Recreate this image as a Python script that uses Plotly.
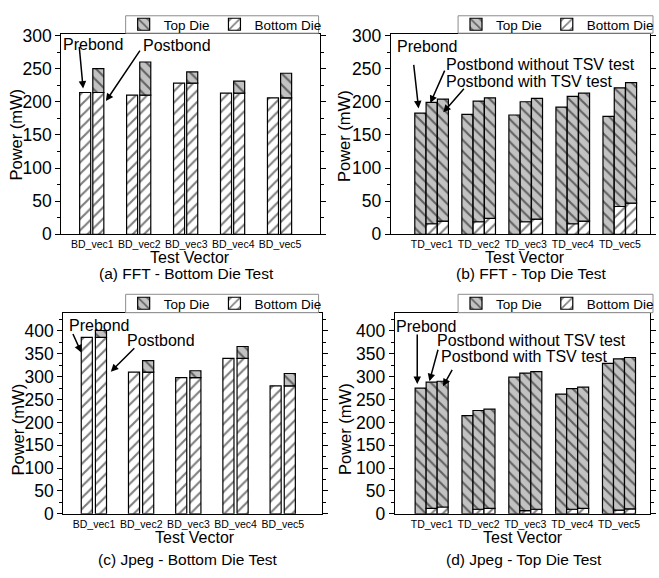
import plotly.graph_objects as go

# ---------------- data ----------------
cats_bd = ["BD_vec1", "BD_vec2", "BD_vec3", "BD_vec4", "BD_vec5"]
cats_td = ["TD_vec1", "TD_vec2", "TD_vec3", "TD_vec4", "TD_vec5"]

# (a) FFT - Bottom Die Test
fft_bd_pre_bottom = [214, 210, 228, 213, 206]
fft_bd_post_bottom = [214, 210, 228, 213, 206]
fft_bd_post_top = [36, 50, 17, 18, 37]

# (b) FFT - Top Die Test
fft_td_pre_top = [183, 181, 180, 192, 178]
fft_td_notsv_bottom = [16, 19, 19, 16, 42]
fft_td_notsv_top = [183, 182, 181, 192, 179]
fft_td_tsv_bottom = [20, 24, 23, 20, 47]
fft_td_tsv_top = [184, 182, 182, 193, 182]

# (c) Jpeg - Bottom Die Test
jpg_bd_pre_bottom = [386, 310, 298, 340, 280]
jpg_bd_post_bottom = [386, 310, 298, 340, 280]
jpg_bd_post_top = [15, 25, 15, 26, 27]

# (d) Jpeg - Top Die Test
jpg_td_pre_top = [275, 215, 299, 262, 329]
jpg_td_notsv_bottom = [12, 10, 7, 10, 8]
jpg_td_notsv_top = [276, 216, 301, 264, 331]
jpg_td_tsv_bottom = [15, 12, 10, 12, 11]
jpg_td_tsv_top = [275, 217, 301, 265, 331]

captions = ["(a) FFT - Bottom Die Test", "(b) FFT - Top Die Test",
            "(c) Jpeg - Bottom Die Test", "(d) Jpeg - Top Die Test"]

# ---------------- style ----------------
W, H = 659, 578
FONT = "Liberation Sans, Arial, sans-serif"
GREY = "#c2c2c2"
BW = 0.235


def px(xp, yp):
    return xp / W, 1 - yp / H


def pattern_marker(kind):
    if kind == "top":
        return dict(color=GREY, line=dict(color="black", width=1.2),
                    pattern=dict(shape="\\", fgcolor="black", bgcolor=GREY,
                                 size=8, solidity=0.27))
    return dict(color="white", line=dict(color="black", width=1.2),
                pattern=dict(shape="/", fgcolor="black", bgcolor="white",
                             size=8, solidity=0.27))


fig = go.Figure()


def add_bar(cats, vals, base, ax, kind, offset, legend, show):
    fig.add_trace(go.Bar(
        x=cats, y=vals, base=base,
        xaxis="x" + ("" if ax == 1 else str(ax)),
        yaxis="y" + ("" if ax == 1 else str(ax)),
        name="Top Die" if kind == "top" else "Bottom Die",
        legendrank=1 if kind == "top" else 2,
        marker=pattern_marker(kind), offset=offset, width=BW,
        legend=legend, showlegend=show, hoverinfo="skip"))


# (a)
add_bar(cats_bd, fft_bd_pre_bottom, None, 1, "bottom", -0.27, "legend", False)
add_bar(cats_bd, fft_bd_post_bottom, None, 1, "bottom", 0.01, "legend", True)
add_bar(cats_bd, fft_bd_post_top, fft_bd_post_bottom, 1, "top", 0.01, "legend", True)
# (b)
add_bar(cats_td, fft_td_pre_top, None, 2, "top", -0.36, "legend2", True)
add_bar(cats_td, fft_td_notsv_bottom, None, 2, "bottom", -0.12, "legend2", True)
add_bar(cats_td, fft_td_notsv_top, fft_td_notsv_bottom, 2, "top", -0.12, "legend2", False)
add_bar(cats_td, fft_td_tsv_bottom, None, 2, "bottom", 0.12, "legend2", False)
add_bar(cats_td, fft_td_tsv_top, fft_td_tsv_bottom, 2, "top", 0.12, "legend2", False)
# (c)
add_bar(cats_bd, jpg_bd_pre_bottom, None, 3, "bottom", -0.27, "legend3", False)
add_bar(cats_bd, jpg_bd_post_bottom, None, 3, "bottom", 0.03, "legend3", True)
add_bar(cats_bd, jpg_bd_post_top, jpg_bd_post_bottom, 3, "top", 0.03, "legend3", True)
# (d)
add_bar(cats_td, jpg_td_pre_top, None, 4, "top", -0.355, "legend4", True)
add_bar(cats_td, jpg_td_notsv_bottom, None, 4, "bottom", -0.12, "legend4", True)
add_bar(cats_td, jpg_td_notsv_top, jpg_td_notsv_bottom, 4, "top", -0.12, "legend4", False)
add_bar(cats_td, jpg_td_tsv_bottom, None, 4, "bottom", 0.115, "legend4", False)
add_bar(cats_td, jpg_td_tsv_top, jpg_td_tsv_bottom, 4, "top", 0.115, "legend4", False)

# ---------------- axes ----------------
panels = [
    # x left, x right, y top, y bottom (px), x range, y range
    (62, 323, 26, 233, [-0.66, 4.84], [0, 302]),
    (395, 657, 26, 233, [-0.87, 4.64], [0, 302]),
    (64, 325, 314, 522, [-0.65, 4.82], [0, 440]),
    (399, 657, 314, 522, [-0.79, 4.66], [0, 440]),
]
layout = {}
for i, (xl, xr, yt, yb, xrng, yrng) in enumerate(panels, start=1):
    sfx = "" if i == 1 else str(i)
    layout["xaxis" + sfx] = dict(
        domain=[xl / W, xr / W], range=xrng, type="category",
        anchor="y" + sfx, showline=True, linecolor="black", linewidth=1.2,
        mirror=True, ticks="", showgrid=False, zeroline=False,
        tickfont=dict(size=10.5, family=FONT, color="black"), ticklabelstandoff=0)
    layout["yaxis" + sfx] = dict(
        domain=[1 - yb / H, 1 - yt / H], range=yrng, dtick=50,
        anchor="x" + sfx, showline=True, linecolor="black", linewidth=1.2,
        mirror="ticks", ticks="outside", ticklen=5, tickcolor="black",
        minor=dict(dtick=25, ticks="outside", ticklen=3, tickcolor="black"),
        showgrid=False, zeroline=False,
        tickfont=dict(size=17.5, family=FONT, color="black"))
fig.update_layout(**layout)

# ---------------- legends (box drawn as a shape, entries on top) ----------------
leg_common = dict(orientation="h", bgcolor="rgba(0,0,0,0)", borderwidth=0,
                  font=dict(size=13.5, family=FONT, color="black"),
                  xanchor="left", yanchor="middle", traceorder="normal",
                  itemwidth=30, tracegroupgap=0)
shapes = []
for name, (bx0, bx1, by0, by1) in zip(
        ["legend", "legend2", "legend3", "legend4"],
        [(127, 322, 7, 25), (463, 660, 7, 25), (127, 322, 295, 314), (463, 660, 295, 314)]):
    lx, ly = px(bx0 - 2, (by0 + by1) / 2)
    fig.update_layout({name: dict(x=lx, y=ly, **leg_common)})
    x0, y0 = px(bx0, by1)
    x1, y1 = px(bx1, by0)
    shapes.append(dict(type="rect", xref="paper", yref="paper", x0=x0, x1=x1,
                       y0=y0, y1=y1, fillcolor="white",
                       line=dict(color="#8c8c8c", width=1), layer="above"))

# ---------------- text annotations ----------------
ann = []


def text(t, xp, yp, size=16, angle=0):
    x, y = px(xp, yp)
    ann.append(dict(text=t, x=x, y=y, xref="paper", yref="paper",
                    xanchor="center", yanchor="middle", showarrow=False,
                    textangle=angle, font=dict(size=size, family=FONT, color="black")))


def arrow(axn, xv, yv, dx, dy):
    sfx = "" if axn == 1 else str(axn)
    ann.append(dict(text="", x=xv, y=yv, xref="x" + sfx, yref="y" + sfx,
                    ax=dx, ay=dy, showarrow=True, arrowhead=2, arrowsize=1,
                    arrowwidth=1.5, arrowcolor="black", standoff=0, startstandoff=0))


# axis titles & captions
for (xt, yt), (xv, yv), (xc, yc), cap in zip(
        [(16, 130), (347, 131), (18, 435), (348, 434)],
        [(192, 256.5), (531, 256.5), (197, 546), (529, 546)],
        [(189, 273.5), (537, 273.5), (190, 569), (530, 569)], captions):
    text("Power (mW)", xt, yt, 16.5, -90)
    text("Test Vector", xv, yv, 16)
    text(cap, xc, yc, 15.5)

# (a)
text("Prebond", 95, 37)
text("Postbond", 179, 38)
arrow(1, -0.196, 220, -4, -43)
arrow(1, 0.29, 201, 35, -52)
# (b)
text("Prebond", 432, 39)
text("Postbond without TSV test", 546, 57)
text("Postbond with TSV test", 535, 75)
arrow(2, -0.28, 190, -5, -45)
arrow(2, -0.03, 198, 15, -34)
arrow(2, 0.245, 184, 22, -25)
# (c)
text("Prebond", 101, 327)
text("Postbond", 163, 343)
arrow(3, -0.27, 353, -9, -20)
arrow(3, 0.356, 311, 25, -25)
# (d)
text("Prebond", 431, 328)
text("Postbond without TSV test", 537, 343)
text("Postbond with TSV test", 530, 359)
arrow(4, -0.31, 284, 0, -51)
arrow(4, -0.05, 290, 9, -33)
arrow(4, 0.24, 279, 10, -18)

fig.update_layout(
    annotations=ann, shapes=shapes, barmode="overlay", width=W, height=H,
    margin=dict(l=0, r=0, t=0, b=0), paper_bgcolor="white", plot_bgcolor="white",
    font=dict(family=FONT, color="black"))

fig.write_html("out.html")
